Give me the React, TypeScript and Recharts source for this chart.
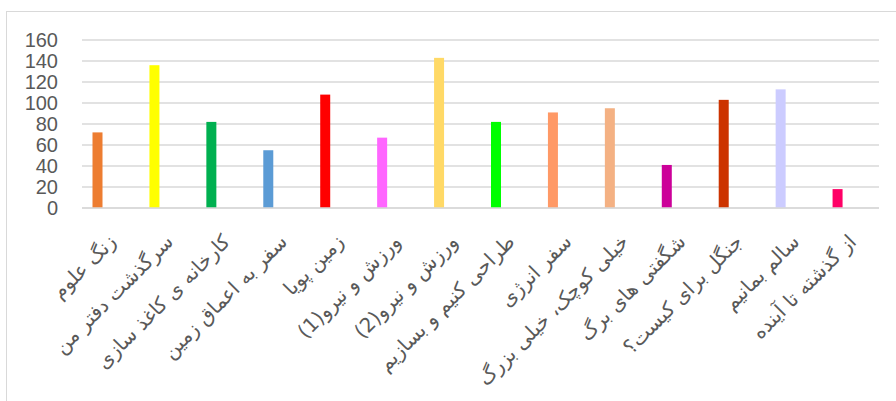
import { BarChart, Bar, XAxis, YAxis, CartesianGrid } from 'recharts'

const categories = [
  'زنگ علوم',
  'سرگذشت دفتر من',
  'کارخانه ی کاغذ سازی',
  'سفر به اعماق زمین',
  'زمین پویا',
  'ورزش و نیرو(1)',
  'ورزش و نیرو(2)',
  'طراحی کنیم و بسازیم',
  'سفر انرژی',
  'خیلی کوچک، خیلی بزرگ',
  'شگفتی های برگ',
  'جنگل برای کیست؟',
  'سالم بمانیم',
  'از گذشته تا آینده',
]
const values = [72, 136, 82, 55, 108, 67, 143, 82, 91, 95, 41, 103, 113, 18]
const colors = [
  '#ED7D31', '#FFFF00', '#00B050', '#5B9BD5', '#FF0000', '#FF66FF', '#FFD966',
  '#00FF00', '#FF9966', '#F4B183', '#CC0099', '#CC3300', '#CCCCFF', '#FF0066',
]
const yTicks = [0, 20, 40, 60, 80, 100, 120, 140, 160]

const data = categories.map((name, i) => ({ name, value: values[i] }))

// eslint-disable-next-line @typescript-eslint/no-explicit-any
const CategoryTick = ({ x, y, payload }: any) => {
  const ax = x + 7
  const ay = y + 27
  return (
    <text
      x={ax}
      y={ay}
      transform={`rotate(-45, ${ax}, ${ay})`}
      direction="rtl"
      textAnchor="start"
      fontSize={20}
      fill="#595959"
      fontFamily="'DejaVu Sans', sans-serif"
    >
      {payload.value}
    </text>
  )
}

// excel leaves the single series left of the category centre
// eslint-disable-next-line @typescript-eslint/no-explicit-any
const OffsetBar = (p: any) => (
  <rect x={p.x - 12.5} y={p.y} width={p.width} height={p.height} fill={colors[p.index]} />
)

export default function App() {
  return (
    <div style={{ position: 'absolute', left: 0, top: 0, width: 896, height: 401, background: '#fff' }}>
      <div
        style={{
          position: 'absolute', left: 6, top: 11, width: 890, height: 390,
          borderTop: '1px solid #d9d9d9', borderLeft: '1px solid #d9d9d9', boxSizing: 'border-box',
        }}
      />
      <div style={{ position: 'absolute', left: 0, top: 0 }}>
        <BarChart width={896} height={401} data={data} margin={{ top: 40, right: 17, left: 22, bottom: 0 }}>
          <CartesianGrid vertical={false} stroke="#d9d9d9" strokeWidth={1.5} />
          <XAxis
            dataKey="name"
            interval={0}
            height={193}
            axisLine={{ stroke: '#d9d9d9', strokeWidth: 1.5 }}
            tickLine={false}
            tick={<CategoryTick />}
          />
          <YAxis
            domain={[0, 160]}
            ticks={yTicks}
            interval={0}
            width={60}
            axisLine={false}
            tickLine={false}
            tickSize={0}
            tickMargin={24}
            tick={{ fontSize: 20, fill: '#595959', fontFamily: "'Liberation Sans', Arial, sans-serif" }}
          />
          <Bar dataKey="value" barSize={10} shape={<OffsetBar />} isAnimationActive={false} />
        </BarChart>
      </div>
    </div>
  )
}
